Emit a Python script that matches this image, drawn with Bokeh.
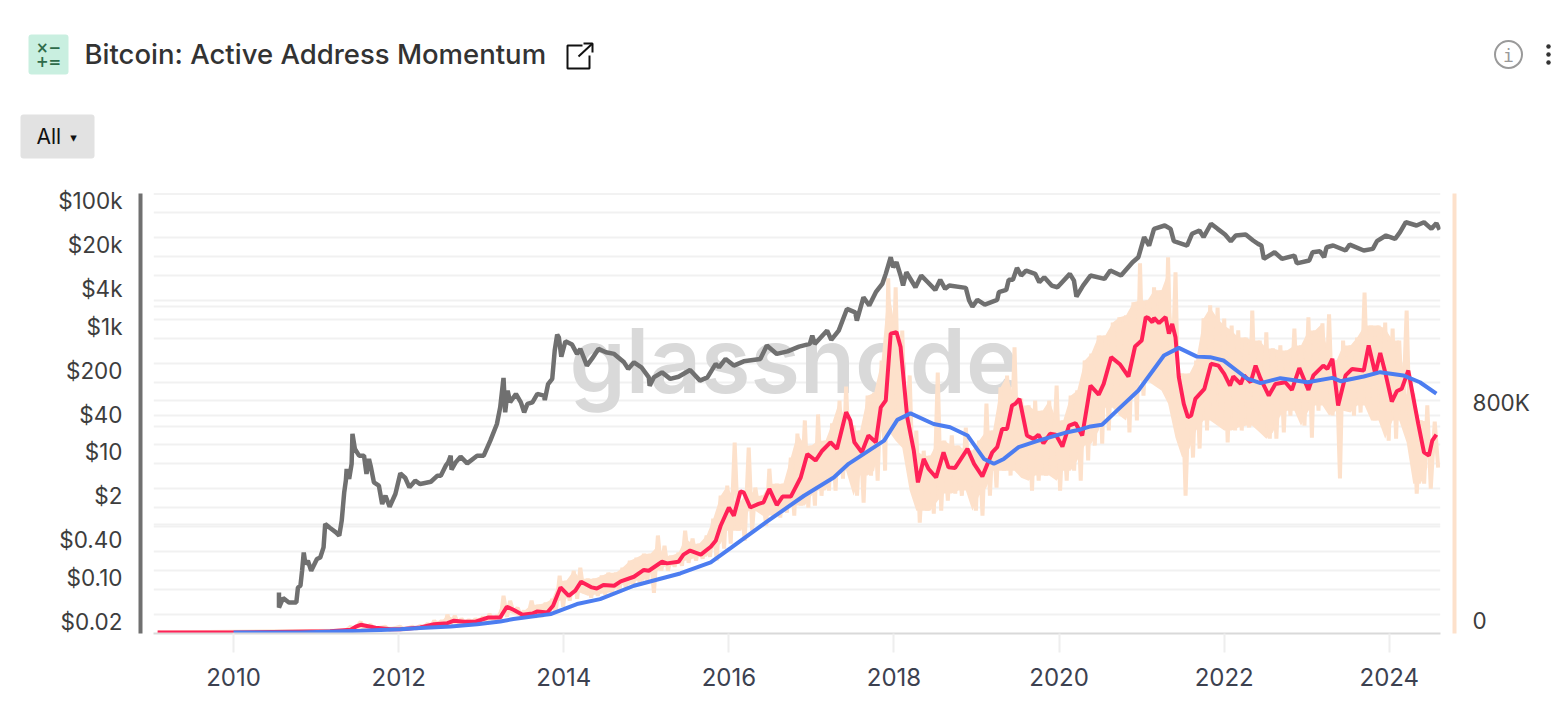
from bokeh.plotting import figure
from bokeh.layouts import column, row
from bokeh.embed import file_html
from bokeh.resources import INLINE
from bokeh.core.properties import value
from bokeh.models import (Range1d, LogScale, LinearScale, LogAxis, LinearAxis, FixedTicker, Grid,
                          BoxAnnotation, Label, Span)

TITLE = "Bitcoin: Active Address Momentum"
YEAR_TICKS = [2010, 2012, 2014, 2016, 2018, 2020, 2022, 2024]
PRICE_TICKS = [100000, 20000, 4000, 1000, 200, 40, 10, 2, 0.4, 0.1, 0.02]
PRICE_LABELS = ["$100k", "$20k", "$4k", "$1k", "$200", "$40", "$10", "$2", "$0.40", "$0.10", "$0.02"]
ADDR_TICKS = [0, 800]
ADDR_LABELS = ["0", "800K"]
PRICE_GRID = [50000, 20000, 10000, 5000, 2000, 1000, 500, 200, 100, 50, 20, 10, 5, 2, 1, 0.5, 0.2, 0.1, 0.05, 0.02]
ADDR_GRID = [400, 800, 1200]

price_years = [2010.55,2010.55,2010.6,2010.67,2010.76,2010.78,2010.81,2010.83,2010.85,2010.87,2010.9,2010.94,2011.01,2011.05,2011.09,2011.11,2011.17,2011.24,2011.28,2011.31,2011.34,2011.36,2011.37,2011.4,2011.43,2011.44,2011.47,2011.52,2011.58,2011.61,2011.64,2011.66,2011.7,2011.76,2011.8,2011.84,2011.89,2011.96,
2012.02,2012.08,2012.13,2012.2,2012.26,2012.39,2012.47,2012.51,2012.57,2012.6,2012.63,2012.64,2012.69,2012.75,2012.83,2012.95,2013.03,2013.11,2013.19,2013.23,2013.27,2013.29,2013.32,2013.35,2013.42,2013.48,2013.52,2013.56,2013.62,2013.68,2013.76,2013.77,2013.81,2013.86,2013.89,2013.92,2013.94,2013.97,2014.02,2014.1,2014.16,2014.2,2014.28,2014.34,2014.42,2014.51,2014.61,2014.73,2014.78,2014.85,2014.94,2015.03,2015.04,2015.09,2015.19,2015.29,2015.39,2015.53,2015.65,2015.74,2015.84,2015.88,2015.96,2016.06,2016.18,2016.38,2016.46,2016.58,2016.71,2016.85,2016.98,2017.01,2017.04,2017.19,2017.24,2017.33,2017.43,2017.53,2017.55,2017.63,2017.7,2017.78,2017.86,2017.9,2017.96,2017.99,2018.03,2018.08,2018.11,2018.15,2018.26,2018.33,2018.41,2018.5,2018.56,2018.62,2018.67,2018.87,2018.91,2018.95,2019.01,2019.1,2019.25,2019.27,2019.36,2019.39,2019.44,2019.49,2019.54,2019.6,2019.71,2019.76,2019.82,2019.91,2019.98,2020.13,2020.18,2020.21,2020.29,2020.38,2020.55,2020.62,2020.75,2020.89,2020.96,2021.03,2021.09,2021.15,2021.28,2021.35,2021.39,2021.55,2021.61,2021.7,2021.75,2021.84,2021.92,2022.01,2022.08,2022.14,2022.26,2022.35,2022.41,2022.45,2022.48,2022.61,2022.7,2022.85,2022.88,2023.03,2023.07,2023.16,2023.21,2023.24,2023.32,2023.47,2023.52,2023.69,2023.8,2023.85,2023.96,2024.07,2024.13,2024.2,2024.33,2024.42,2024.51,2024.57,2024.61]
price_usd = [.058,.0334,.0472,.0402,.0402,.0695,.0741,.128,.251,.164,.185,.128,.197,.209,.302,.711,.614,.523,.463,.802,2.26,3.48,5.34,3.71,6.42,19.3,11.1,8.7,8.7,4.45,7.71,6.03,3.27,2.9,1.48,2.01,1.34,2.14,
4.55,3.84,2.72,3.48,3.08,3.35,4.18,4.18,6.03,6.8,8.7,5.21,6.8,8.39,6.56,8.7,8.7,15.1,27.8,51.2,150,42.6,94.3,61.4,83.6,61.4,42.6,57.9,61.4,83.6,78.5,67,120,145,408,735,665,328,575,509,362,435,236,301,435,384,362,266,209,266,222,153,113,153,184,145,157,201,136,153,251,222,301,236,276,301,491,362,398,473,522,708,522,851,605,851,1880,1660,1230,2880,2130,3470,4770,6800,12500,8670,10400,6390,4430,7210,4160,6390,5000,3780,5460,3930,4430,4070,2560,2050,2620,2210,2620,3470,3780,5460,5460,8470,6390,7670,6800,5000,6010,4430,4160,6800,5320,2960,4430,6390,5660,7670,6390,10400,12500,26100,19200,35400,40000,35400,22500,19200,29500,33300,26100,42600,35400,28800,22500,27700,28800,23100,20400,19200,11800,15000,11800,13300,10000,11100,15000,15600,12500,18000,19200,16000,19900,16000,17000,22500,27700,24500,31300,45100,40000,45100,35400,43500,34200]

momentum_years = [2009.08,2010.0,2011.17,2011.42,2011.48,2011.54,2011.72,2011.9,2012.02,2012.26,2012.43,2012.59,2012.67,2012.79,2012.93,2013.09,2013.23,2013.31,2013.39,2013.5,2013.62,2013.68,2013.8,2013.87,2013.96,2014.06,2014.14,2014.21,2014.34,2014.4,2014.48,2014.61,2014.69,2014.85,2014.97,2015.03,2015.19,2015.25,2015.39,2015.45,2015.53,2015.66,2015.78,2015.84,2015.9,2016.0,2016.06,2016.14,2016.18,2016.26,2016.36,2016.42,2016.49,2016.58,2016.65,2016.75,2016.87,2016.95,2017.05,2017.13,2017.23,2017.31,2017.42,2017.47,2017.52,2017.61,2017.69,2017.78,2017.84,2017.9,2017.96,2018.03,2018.08,2018.16,2018.24,2018.29,2018.36,2018.42,2018.51,2018.6,2018.66,2018.74,2018.89,2018.97,2019.07,2019.19,2019.25,2019.31,2019.37,2019.43,2019.47,2019.52,2019.61,2019.69,2019.75,2019.81,2019.89,2019.96,2020.04,2020.12,2020.2,2020.28,2020.38,2020.48,2020.54,2020.63,2020.74,2020.84,2020.92,2021.0,2021.05,2021.08,2021.13,2021.15,2021.21,2021.29,2021.33,2021.37,2021.41,2021.45,2021.51,2021.56,2021.6,2021.65,2021.76,2021.84,2021.93,2022.0,2022.07,2022.11,2022.2,2022.24,2022.32,2022.38,2022.44,2022.54,2022.62,2022.74,2022.82,2022.91,2023.02,2023.08,2023.2,2023.25,2023.31,2023.38,2023.47,2023.55,2023.69,2023.75,2023.83,2023.89,2023.95,2024.03,2024.09,2024.15,2024.23,2024.29,2024.35,2024.42,2024.48,2024.52,2024.57]
momentum_k = [4,4,8,14,25,32,21,16,16,22,34,38,47,43,43,59,59,98,87,69,73,81,77,102,169,138,157,190,169,165,178,175,191,208,233,230,263,257,263,289,304,289,318,340,395,462,432,521,517,462,475,481,530,471,502,502,572,658,634,670,701,677,811,781,701,664,726,701,829,854,1099,1105,1050,793,670,554,640,603,572,664,609,607,677,622,576,664,683,750,750,836,842,860,726,713,729,697,732,729,685,762,771,726,909,876,915,1013,986,942,1052,1074,1160,1157,1141,1157,1138,1160,1099,1135,1086,940,842,793,799,860,897,989,982,952,909,942,915,946,921,982,934,872,915,921,893,973,893,946,982,970,1007,836,946,970,964,1056,952,1028,958,850,888,897,964,866,769,664,652,707,729]

slow_years = [2010.0,2010.81,2011.54,2012.02,2012.26,2012.63,2012.95,2013.23,2013.39,2013.84,2014.16,2014.44,2014.85,2015.41,2015.78,2016.02,2016.46,2016.91,2017.27,2017.45,2017.88,2018.04,2018.2,2018.48,2018.68,2018.89,2019.09,2019.21,2019.33,2019.51,2019.73,2020.1,2020.26,2020.38,2020.52,2020.7,2020.96,2021.27,2021.45,2021.67,2021.83,2021.99,2022.28,2022.44,2022.68,2023.01,2023.31,2023.41,2023.69,2023.89,2024.17,2024.37,2024.57]
slow_k = [4,4,10,16,20,26,34,44,53,71,108,126,175,220,261,313,410,505,572,622,707,783,807,768,756,726,640,622,640,683,705,738,748,759,765,817,891,1019,1047,1015,1013,1001,934,918,936,921,937,925,942,958,946,921,879]

daily_years = [2009.08,2011.3,2011.42,2011.54,2011.66,2011.84,2012.02,2012.17,2012.26,2012.35,2012.43,2012.52,2012.59,2012.68,2012.76,2012.85,2012.93,2013.02,2013.1,2013.19,2013.27,2013.35,2013.44,2013.52,2013.61,2013.69,2013.78,2013.86,2013.95,2014.03,2014.12,2014.2,2014.29,2014.37,2014.46,2014.54,2014.63,2014.71,2014.8,2014.88,2014.97,2015.05,2015.14,2015.22,2015.3,2015.39,2015.47,2015.56,2015.64,2015.73,2015.81,2015.9,2015.98,2016.07,2016.15,2016.24,2016.32,2016.41,2016.49,2016.58,2016.66,2016.75,2016.83,2016.92,2017.0,2017.08,2017.17,2017.25,2017.34,2017.42,2017.51,2017.59,2017.68,2017.76,2017.85,2017.93,2018.02,2018.1,2018.19,2018.27,2018.36,2018.44,2018.53,2018.61,2018.7,2018.78,2018.87,2018.95,2019.03,2019.12,2019.2,2019.29,2019.37,2019.46,2019.54,2019.63,2019.71,2019.8,2019.88,2019.97,2020.05,2020.14,2020.22,2020.31,2020.39,2020.48,2020.56,2020.65,2020.73,2020.81,2020.9,2020.98,2021.07,2021.15,2021.24,2021.32,2021.41,2021.49,2021.58,2021.66,2021.75,2021.83,2021.92,2022.0,2022.09,2022.17,2022.26,2022.34,2022.43,2022.51,2022.59,2022.68,2022.76,2022.85,2022.93,2023.02,2023.1,2023.19,2023.27,2023.36,2023.44,2023.53,2023.61,2023.7,2023.78,2023.87,2023.95,2024.04,2024.12,2024.21,2024.29,2024.38,2024.46,2024.55]
daily_high_k = [6,10,25,43,32,25,25,25,28,36,47,47,69,65,54,50,54,61,72,65,138,120,94,83,120,105,113,127,212,193,230,241,201,201,212,223,223,241,267,278,292,292,359,322,285,296,377,348,329,359,421,505,542,700,487,682,535,505,604,549,549,645,733,781,689,803,707,770,854,905,762,744,872,883,1001,1302,1269,1111,946,744,670,652,957,707,726,689,755,670,707,843,744,902,946,1049,861,836,854,817,854,909,781,872,891,1001,1026,1092,1092,1140,1159,1166,1214,1357,1221,1269,1258,1379,1324,953,953,1001,1155,1203,1195,1155,1129,1111,1085,1184,1074,1104,1045,1056,1037,1118,1056,1159,1111,1137,1170,1001,1074,1056,1085,1250,1129,1129,1140,1118,1074,1184,880,781,836,777]
daily_low_k = [4,6,10,17,17,14,14,17,21,21,28,32,32,36,36,36,36,39,47,47,61,76,65,58,58,61,65,76,98,120,127,149,131,138,142,146,149,164,179,179,193,149,230,230,245,248,259,267,274,281,267,311,329,377,340,377,450,395,432,425,443,432,469,461,469,505,524,524,568,597,505,480,579,560,597,744,707,681,524,406,450,439,450,487,513,505,524,450,432,505,535,597,579,597,571,524,560,579,579,524,560,597,560,634,689,696,744,828,799,737,781,872,927,909,891,843,718,505,645,678,744,781,762,700,744,744,755,762,737,714,714,737,799,817,762,718,817,836,799,568,817,799,810,836,781,781,707,714,781,700,513,549,531,608]

PEACH = "#FDE1CB"
GRAY = "#707070"
RED = "#FF2157"
BLUE = "#4C7DF0"
GRID = "#F1F1F1"
AXIS_FONT = "Inter"

# ---------- header: its data coordinates are pixels -----------------------------------
h = figure(width=1560, height=160, x_range=(-8, 1552), y_range=(152, -8), output_backend="svg",
           toolbar_location=None, x_axis_location=None, y_axis_location=None, min_border=0)
h.grid.visible = False
h.outline_line_color = None
h.add_layout(BoxAnnotation(left=20, right=60, top=26, bottom=66, fill_color="#C9EFE0", fill_alpha=1,
                           line_color=None, border_radius=3, level="underlay"))
h.add_layout(BoxAnnotation(left=12, right=86, top=106, bottom=150, fill_color="#E2E2E2", fill_alpha=1,
                           line_color=None, border_radius=3, level="underlay"))
h.text([40, 40], [39, 53], text=["×−", "+="], text_font=value("DejaVu Sans"), text_font_size="15px",
       text_color="#2F6B4A", text_align="center", text_baseline="middle", text_font_style="bold")
h.text([76], [45.5], text=[TITLE], text_font=value("Inter Medium"), text_font_size="27.5px", text_color="#333333",
       text_align="left", text_baseline="middle")
h.text([28], [128], text=["All"], text_font=value("Inter"), text_font_size="21px", text_color="#111111",
       text_align="left", text_baseline="middle")
h.text([65], [129], text=["▾"], text_font=value("DejaVu Sans"), text_font_size="13px", text_color="#111111",
       text_align="center", text_baseline="middle")
h.multi_line([[574, 559, 559, 581, 581], [570, 584], [575, 584, 584]],
             [[37, 37, 60, 60, 47], [48, 35], [35, 35, 44]], line_color="#111111", line_width=2)
h.scatter([1500], [46], marker="circle", size=27, fill_color=None, line_color="#9A9A9A", line_width=2)
h.text([1500], [47], text=["i"], text_font=value("DejaVu Sans Mono"), text_font_size="18px",
       text_color="#9A9A9A", text_align="center", text_baseline="middle")
h.scatter([1540, 1540, 1540], [38, 46, 54], marker="circle", size=4.5, fill_color="#333333", line_color=None)

# ---------- main chart -------------------------------------------------------------
p = figure(width=1560, height=548, x_range=Range1d(2009.03, 2024.62),
           y_range=Range1d(0.01288, 129200), y_axis_type="log",
           output_backend="svg", toolbar_location=None, x_axis_location=None, y_axis_location=None,
           min_border_left=153, min_border_right=120, min_border_top=33, min_border_bottom=75)
p.grid.visible = False
p.outline_line_color = None
p.background_fill_color = "white"

p.extra_y_ranges = {
    "grid": Range1d(0.01, 100000),          # the gridlines' own decades
    "addr": Range1d(0, 1613),               # active addresses, thousands
    "addr_axis": Range1d(-46.6, 1567),      # the right-hand axis' labels sit above their gridlines
}
p.extra_y_scales = {"grid": LogScale(), "addr": LinearScale(), "addr_axis": LinearScale()}

for ticks, rng, color in ((PRICE_GRID, "grid", GRID), (ADDR_GRID, "addr", GRID)):
    p.add_layout(Grid(dimension=1, ticker=FixedTicker(ticks=ticks), y_range_name=rng,
                      grid_line_color=color, grid_line_width=2))
p.add_layout(Span(location=100000, dimension="width", y_range_name="grid", line_color="#E6E6E6", line_width=2,
                  level="underlay"))

def bar_axes(axis_type, color, gap):
    """An invisible spacer axis and, outside it, an axis that only draws its thick coloured line."""
    tick = FixedTicker(ticks=[1], minor_ticks=[])
    spacer = axis_type(ticker=tick, axis_line_color=None,
                       major_tick_line_color=None, minor_tick_line_color=None,
                       major_tick_in=0, major_tick_out=gap, minor_tick_out=0,
                       major_label_standoff=0, major_label_overrides={1: ""})
    bar = axis_type(ticker=tick, axis_line_color=color, axis_line_width=4,
                    major_tick_line_color=None, minor_tick_line_color=None,
                    major_tick_in=0, major_tick_out=0, minor_tick_out=0,
                    major_label_standoff=0, major_label_overrides={1: ""})
    return spacer, bar

for a in bar_axes(LogAxis, GRAY, 13):
    p.add_layout(a, "left")
for a in bar_axes(LogAxis, PEACH, 14):
    p.add_layout(a, "right")

left = LogAxis(ticker=FixedTicker(ticks=PRICE_TICKS, minor_ticks=[]),
               major_label_overrides=dict(zip(PRICE_TICKS, PRICE_LABELS)),
               major_tick_line_color=None, minor_tick_line_color=None, axis_line_color=None,
               major_tick_in=0, major_tick_out=0, minor_tick_out=0,
               major_label_standoff=18, major_label_text_font=AXIS_FONT,
               major_label_text_font_size="22.5px", major_label_text_color="#3D3D3D")
p.add_layout(left, "left")

right = LinearAxis(y_range_name="addr_axis", ticker=FixedTicker(ticks=ADDR_TICKS, minor_ticks=[]),
                   major_label_overrides=dict(zip(ADDR_TICKS, ADDR_LABELS)),
                   major_tick_line_color=None, minor_tick_line_color=None, axis_line_color=None,
                   major_tick_in=0, major_tick_out=0, minor_tick_out=0,
                   major_label_standoff=18, major_label_text_font=AXIS_FONT,
                   major_label_text_font_size="22.5px", major_label_text_color="#3D3D3D")
p.add_layout(right, "right")

bottom = LinearAxis(ticker=FixedTicker(ticks=YEAR_TICKS, minor_ticks=[]),
                    major_label_overrides={y: str(y) for y in YEAR_TICKS},
                    axis_line_color="#D9D9D9", axis_line_width=2,
                    major_tick_line_color="#EEEEEE", major_tick_line_width=2,
                    major_tick_in=0, major_tick_out=19, minor_tick_line_color=None,
                    major_label_standoff=15, major_label_text_font=AXIS_FONT,
                    major_label_text_font_size="24px", major_label_text_color="#3C4150")
p.add_layout(bottom, "below")

p.add_layout(Label(x=2014.07, y=1000, y_range_name="addr", text="glassnode", text_font="Inter SemiBold",
                   text_font_size="90px", text_font_style="normal", text_color="#D9D9D9",
                   text_baseline="alphabetic", level="underlay"))

daily_x, daily_y = [], []
for yr, hi, lo in zip(daily_years, daily_high_k, daily_low_k):
    daily_x += [yr, yr + 0.042]
    daily_y += [hi, lo]

# the dense body of the daily series: what each pair of neighbouring months have in common
core_hi = [min(a, b) for a, b in zip(daily_high_k, daily_high_k[1:])]
core_lo = [max(a, b) for a, b in zip(daily_low_k, daily_low_k[1:])]
core_hi = [max(a, b) for a, b in zip(core_hi, core_lo)]
p.varea(daily_years[:-1], core_lo, core_hi, y_range_name="addr", fill_color=PEACH)
p.line(daily_x, daily_y, y_range_name="addr", line_color=PEACH, line_width=4, line_join="bevel")
p.line(price_years, price_usd, line_color=GRAY, line_width=4.5)
p.line(momentum_years, momentum_k, y_range_name="addr", line_color=RED, line_width=4)
p.line(slow_years, slow_k, y_range_name="addr", line_color=BLUE, line_width=4)

open("out.html", "w").write(file_html(column(row(h), row(p), spacing=0), INLINE))
